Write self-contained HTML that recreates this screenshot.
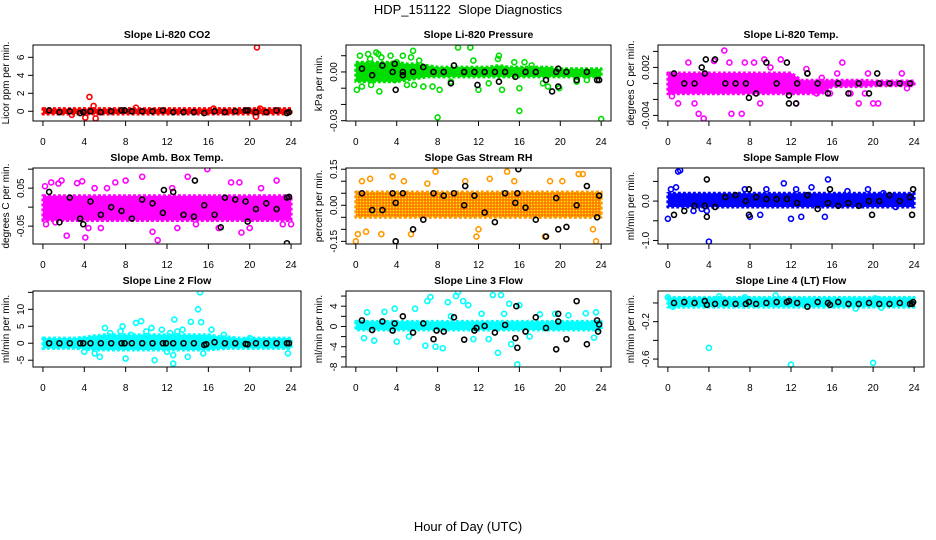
<!DOCTYPE html>
<html><head><meta charset="utf-8"><style>
body{margin:0;background:#fff}
svg{display:block;font-family:"Liberation Sans",sans-serif}
</style></head><body>
<svg id="chart" width="936" height="540" viewBox="0 0 936 540" xmlns="http://www.w3.org/2000/svg">
<defs>
<pattern id="rh-pat" width="3" height="3" patternUnits="userSpaceOnUse"><rect width="3" height="3" fill="#ff9900"/><rect width="1" height="1" fill="#ffee00"/><rect x="1.5" y="1.5" width="1" height="1" fill="#ff2200"/></pattern>
</defs>
<text x="468" y="14" text-anchor="middle" font-size="13" xml:space="preserve">HDP_151122  Slope Diagnostics</text>
<text x="468" y="531" text-anchor="middle" font-size="13">Hour of Day (UTC)</text>
</svg>
<script>
const hours = [0,1,2,3,4,5,6,7,8,9,10,11,12,13,14,15,16,17,18,19,20,21,22,23,24];
const blackX = [0.6,1.6,2.6,3.6,4.6,5.6,6.6,7.6,8.6,9.6,10.6,11.6,12.6,13.6,14.6,15.6,16.6,17.6,18.6,19.6,20.6,21.6,22.6,23.6];
const xTicks = [0,4,8,12,16,20,24];

const co2BandLo = Array(25).fill(-0.3);
const co2BandHi = Array(25).fill(0.3);
const co2Black = [0.1,-0.1,0,-0.2,0,-0.1,0,0.1,0,0,0,0.1,-0.1,-0.1,-0.1,-0.2,0,-0.1,0,0.1,-0.1,-0.1,0.1,-0.2];
const co2Scatter = [[4.1,-0.7],[4.5,1.6],[4.9,0.6],[5.1,-0.8],[20.7,7.1],[20.6,-0.6],[9,0.4],[21,0.3],[2.8,-0.4],[16.5,0.3]];
const co2BlackExtra = [[3.9,-0.1],[7.9,0.1],[19.8,0.1],[23.8,-0.1]];

const presBandLo = [-0.006,-0.006,-0.006,-0.006,-0.006,-0.005,-0.004,-0.003,-0.003,-0.003,-0.003,-0.003,-0.003,-0.003,-0.003,-0.003,-0.003,-0.003,-0.003,-0.003,-0.003,-0.003,-0.003,-0.003,-0.003];
const presBandHi = [0.006,0.006,0.006,0.006,0.006,0.005,0.005,0.004,0.003,0.003,0.003,0.003,0.003,0.003,0.004,0.003,0.003,0.003,0.003,0.003,0.002,0.002,0.002,0.002,0.002];
const presBlack = [0.002,-0.002,0.004,0,0,0,0.003,0,0,0.004,0,0,0,0,0,-0.003,0,0,-0.005,0,0,-0.005,0,-0.005];
const presScatter = [[0.1,-0.011],[0.4,0.010],[0.6,-0.009],[1.2,0.011],[1.4,0.008],[1.5,-0.008],[2,0.012],[2.2,0.011],[2.5,0.009],[2.3,-0.012],[3.4,0.010],[3.6,0.005],[3.8,-0.005],[4,0.006],[4.6,0.010],[5,-0.008],[5.4,0.009],[5.6,0.013],[5.7,-0.008],[6.2,0.007],[6.6,-0.009],[7.5,-0.009],[8,-0.028],[8.2,-0.011],[9.3,-0.006],[10,0.015],[11.2,0.015],[11.5,0.007],[12,-0.011],[13,-0.007],[13.9,0.008],[14,0.010],[14.3,-0.011],[15.5,0.006],[16,-0.024],[16,-0.010],[16.5,0.006],[17.2,0.004],[18.3,-0.007],[18.8,-0.009],[19.9,-0.010],[21.6,-0.006],[22.6,-0.005],[24,-0.029]];
const presBlackExtra = [[3.8,0.005],[3.9,-0.011],[4.6,-0.002],[9.3,-0.007],[11.9,-0.008],[14,-0.006],[19.2,-0.012],[19.8,-0.009],[19.8,0.002],[23.8,-0.005]];

const tempBandLo = [-0.0013,-0.0013,-0.0013,-0.0013,-0.0013,-0.0013,-0.0013,-0.0013,-0.0013,-0.0013,-0.0013,-0.0013,-0.0013,-0.0013,-0.0013,-0.0013,-0.0004,-0.0004,-0.0004,-0.0004,-0.0003,-0.0003,-0.0003,-0.0003,-0.0003];
const tempBandHi = [0.0013,0.0013,0.0013,0.0013,0.0013,0.0013,0.0013,0.0013,0.0013,0.0013,0.0013,0.0013,0.0013,0.0004,0.0004,0.0004,0.0004,0.0004,0.0004,0.0004,0.0003,0.0003,0.0003,0.0003,0.0003];
const tempBlack = [0.00125,0,0,0.00125,0.003,0,0,0,-0.00125,0.0026,0,0.0026,0,0.00125,0,-0.00125,0,-0.00125,0,-0.00125,0,0,0,0];
const tempScatter = [[0.4,-0.0016],[1,-0.0025],[2,0.0026],[2.6,-0.0025],[3,-0.0038],[3.5,-0.0044],[4.5,0.0028],[5.5,0.0041],[6,0.0026],[6.2,-0.0038],[7.2,-0.0038],[7.5,0.0026],[8.4,0.0026],[9.4,0.003],[9,-0.0025],[10,0.002],[11,0.003],[12.5,-0.0025],[13.5,0.0018],[15,0.0007],[17,0.0026],[16.5,0.00125],[18.6,-0.0025],[19.5,0.00125],[20,-0.0025],[20.5,-0.0025],[22.8,0.00125],[23.3,-0.0006],[17.8,-0.00125],[19.2,-0.00125],[14.5,-0.00125],[15.8,-0.00125]];
const tempBlackExtra = [[3.7,0.003],[3.3,0.0020],[7.9,-0.0018],[11.8,-0.0025],[11.8,-0.0015],[12.5,-0.0025],[13.6,0.00125],[20.4,0.00125]];

const ambBandLo = Array(25).fill(-0.035);
const ambBandHi = Array(25).fill(0.03);
const ambBlack = [0.04,-0.04,0.025,-0.03,0.015,-0.02,0.0,-0.01,-0.03,0.02,0.01,-0.015,0.04,-0.02,-0.025,0.005,-0.02,0.025,0.02,0.015,-0.005,0.01,-0.005,0.025];
const ambScatter = [[0.2,0.055],[0.8,0.065],[1.5,0.062],[1.8,0.07],[2.3,-0.075],[3.3,0.063],[3.8,0.068],[4.1,-0.08],[4.4,-0.055],[5,0.05],[5.6,-0.055],[6.2,0.05],[7,0.065],[8,0.07],[9.6,0.08],[10.6,-0.065],[11.1,-0.087],[12.5,0.05],[14,0.08],[14.8,-0.045],[15.9,0.1],[17,-0.055],[18.2,0.065],[19,0.065],[19.2,-0.067],[20,-0.055],[21.1,0.05],[22.6,0.07],[23.2,-0.045],[24,-0.045],[0.3,-0.045],[1.2,-0.04],[13,-0.055]];
const ambBlackExtra = [[23.6,-0.095],[14.7,0.07],[17.2,-0.053],[3.9,-0.045],[11.7,0.045],[19.8,-0.038],[23.8,0.027]];

const rhBandLo = Array(25).fill(-0.05);
const rhBandHi = Array(25).fill(0.055);
const rhBlack = [0.05,-0.02,-0.02,0.05,0.05,-0.1,-0.06,0.05,0.04,0.05,0.0,0.04,-0.03,-0.07,0.05,0.01,-0.01,-0.06,-0.13,0.03,-0.09,0.0,0.08,-0.05];
const rhScatter = [[0,-0.15],[0.2,-0.12],[0.6,0.1],[1,-0.11],[1.4,0.11],[2.5,-0.12],[3.6,0.12],[4.7,0.1],[5.4,-0.12],[7,0.09],[7.8,0.14],[9.4,0.18],[10.7,0.1],[11.8,-0.13],[13.1,0.11],[14.8,0.14],[15.5,0.1],[18.5,-0.13],[19,0.1],[20.2,0.1],[21.8,0.13],[22.2,0.13],[23.5,-0.15],[23.2,-0.1],[12,-0.1]];
const rhBlackExtra = [[3.8,0.17],[3.9,-0.15],[15.9,0.15],[3.9,0.01],[10.7,0.08],[15.8,0.05],[19.8,-0.1],[23.8,0.04]];

const sfBandLo = Array(25).fill(-0.15);
const sfBandHi = Array(25).fill(0.2);
const sfBlack = [-0.35,-0.25,-0.12,-0.12,-0.15,0.1,0.15,0.0,0.1,0.05,0.05,0.05,-0.05,0.15,-0.2,-0.05,-0.12,-0.05,-0.12,0.0,0.0,0.15,0.0,0.1];
const sfScatter = [[0,-0.45],[0.3,0.3],[0.8,0.35],[1,0.75],[1.2,0.78],[2.5,-0.25],[3.3,-0.2],[4,-1.03],[3.8,-0.25],[7.5,0.3],[8,-0.4],[9,-0.35],[9.6,0.3],[11.3,0.45],[12,-0.45],[12.5,0.3],[13,-0.4],[14,0.35],[15.3,-0.4],[15.6,0.55],[17.5,0.25],[19.5,0.3],[21,0.2],[22.2,-0.15]];
const sfBlackExtra = [[3.8,0.55],[3.8,-0.4],[7.9,-0.35],[19.9,-0.35],[23.8,-0.35],[23.9,0.3],[7.9,0.3],[15.8,0.3]];

const l2BandLo = [-1.5,-1.5,-1.5,-1.5,-1.7,-2,-2,-2,-2,-2,-2,-2,-2,-2,-2,-2,-2,-1.7,-1.5,-1.5,-1.5,-1.5,-1.5,-1.5,-1.5];
const l2BandHi = [1.5,1.5,1.5,1.5,1.8,2.2,2.5,2.5,2.5,2.5,2.5,2.5,2.5,2.5,2.5,2.5,2.5,2,1.8,1.5,1.5,1.5,1.5,1.5,1.5];
const l2Black = [0,0,0,0,0,0,0,0,0,0,0,0,0,0,0,-0.5,0.3,0,0,-0.2,0,0,0,0];
const l2Scatter = [[4,-2.5],[5,-3],[5.5,-4],[6,4.5],[6.5,3],[7.5,3.5],[7.7,5],[8,-4.5],[8.5,2.5],[9,6],[9.5,6.5],[10,3.5],[10.5,4.5],[10.8,-5],[11.5,4],[12,-2.5],[12.3,3],[12.6,-3.5],[12.7,7],[13,3.5],[13.5,4],[14,-4],[14.3,6.3],[15,10],[15.2,15],[15.3,6.2],[15.5,-3],[16.3,4],[17.5,2.5],[20,1.5],[23.7,-3],[12.6,-6]];
const l2BlackExtra = [[3.9,0],[7.9,0],[11.9,0],[15.8,-0.3],[19.8,-0.3],[23.8,0]];

const l3BandLo = Array(25).fill(-0.7);
const l3BandHi = Array(25).fill(1.0);
const l3Black = [1.2,-0.7,1.0,-0.8,2.0,-1.2,0.6,-2.5,-1.0,1.8,-2.6,-0.8,0.1,-1.2,0.3,-2.3,-1.0,1.8,-0.3,-4.5,-2.5,5.0,-3.5,1.2];
const l3Scatter = [[0.8,-2.3],[1.1,2.8],[1.8,-2.8],[2.8,2.9],[3.8,3.5],[4,-3],[5.2,-2],[5.8,3.5],[6.8,-3.8],[7,5],[7.3,5.8],[7.8,-4],[8.5,-4.3],[9,4.8],[9.3,2],[9.8,6],[10,6.8],[10.5,5],[11,4.2],[11.5,-2.5],[12.3,2.5],[13,-2.5],[13.4,6.2],[13.9,-5.2],[14.2,6.2],[14.5,2.5],[15,4.5],[15.2,-3.5],[15.8,-7.5],[16,4.2],[17,-2],[18,2.4],[19.5,2.5],[20.8,2.2],[22.5,2.6],[23.3,-2.2],[23.5,2.8]];
const l3BlackExtra = [[3.8,0.6],[7.9,-0.8],[11.8,-0.3],[15.7,4.0],[15.8,-4.2],[19.8,2.5],[19.8,1.0],[23.8,0.4],[23.7,-1.0]];

const l4BandLo = Array(25).fill(-0.045);
const l4BandHi = Array(25).fill(0.06);
const l4Black = [0.0,0.01,0.0,0.02,-0.01,0.0,-0.01,-0.01,-0.01,0.0,0.01,0.01,0.0,-0.04,0.01,0.0,0.01,-0.01,-0.01,0.0,-0.01,-0.01,0.0,-0.01];
const l4Scatter = [[0,0.06],[0.5,-0.04],[4,-0.48],[5,0.07],[7.5,0.06],[10.5,0.08],[12,-0.66],[18.3,-0.06],[20,-0.64],[20.2,0.05],[20.8,-0.05]];
const l4BlackExtra = [[3.8,-0.02],[11.8,0.02],[15.8,-0.02],[7.9,0.01],[23.8,-0.01],[23.9,0.01]];

const panels = [
 {name:'co2',title:'Slope Li-820 CO2',ylab:'Licor ppm per min.',box:[33,45,301,121],ylim:[-1.08,7.37],ticks:[0,2,4,6],labels:['0','2','4','6'],col:'#ff0000',lo:co2BandLo,hi:co2BandHi,blk:co2Black,sc:co2Scatter,bx:co2BlackExtra},
 {name:'pressure',title:'Slope Li-820 Pressure',ylab:'kPa per min.',box:[346,45,611,121],ylim:[-0.0302,0.0166],ticks:[0.01,0,-0.01,-0.02,-0.03],labels:['','0.00','','','-0.03'],col:'#00dd00',lo:presBandLo,hi:presBandHi,blk:presBlack,sc:presScatter,bx:presBlackExtra},
 {name:'temp',title:'Slope Li-820 Temp.',ylab:'degrees C per min.',box:[658,45,924,121],ylim:[-0.0047,0.0048],ticks:[0.004,0.002,0,-0.002,-0.004],labels:['','0.002','','','-0.004'],col:'#ff00ff',lo:tempBandLo,hi:tempBandHi,blk:tempBlack,sc:tempScatter,bx:tempBlackExtra},
 {name:'amb-box-temp',title:'Slope Amb. Box Temp.',ylab:'degrees C per min.',box:[33,168,301,244],ylim:[-0.097,0.103],ticks:[0.1,0.05,0,-0.05],labels:['','0.05','','-0.05'],col:'#ff00ff',lo:ambBandLo,hi:ambBandHi,blk:ambBlack,sc:ambScatter,bx:ambBlackExtra},
 {name:'gas-stream-rh',title:'Slope Gas Stream RH',ylab:'percent per min.',box:[346,168,611,244],ylim:[-0.161,0.155],ticks:[0.15,0.1,0.05,0,-0.05,-0.1,-0.15],labels:['0.15','','','0.00','','','-0.15'],col:'#ff9900',fill:'url(#rh-pat)',lo:rhBandLo,hi:rhBandHi,blk:rhBlack,sc:rhScatter,bx:rhBlackExtra},
 {name:'sample-flow',title:'Slope Sample Flow',ylab:'ml/min per min.',box:[658,168,924,244],ylim:[-1.09,0.84],ticks:[0.5,0,-0.5,-1],labels:['','0.0','','-1.0'],col:'#0000ff',lo:sfBandLo,hi:sfBandHi,blk:sfBlack,sc:sfScatter,bx:sfBlackExtra},
 {name:'line2-flow',title:'Slope Line 2 Flow',ylab:'ml/min per min.',box:[33,291,301,367],ylim:[-7,15.4],ticks:[15,10,5,0,-5],labels:['','10','5','0','-5'],col:'#00ffff',lo:l2BandLo,hi:l2BandHi,blk:l2Black,sc:l2Scatter,bx:l2BlackExtra},
 {name:'line3-flow',title:'Slope Line 3 Flow',ylab:'ml/min per min.',box:[346,291,611,367],ylim:[-8,7],ticks:[6,4,2,0,-2,-4,-6,-8],labels:['','4','','0','','-4','','-8'],col:'#00ffff',lo:l3BandLo,hi:l3BandHi,blk:l3Black,sc:l3Scatter,bx:l3BlackExtra},
 {name:'line4-flow',title:'Slope Line 4 (LT) Flow',ylab:'ml/min per min.',box:[658,291,924,367],ylim:[-0.685,0.128],ticks:[0,-0.2,-0.4,-0.6],labels:['','-0.2','','-0.6'],col:'#00ffff',lo:l4BandLo,hi:l4BandHi,blk:l4Black,sc:l4Scatter,bx:l4BlackExtra}
];

const NS='http://www.w3.org/2000/svg';
const svg=document.getElementById('chart');
function mk(tag,attrs,parent,text){const e=document.createElementNS(NS,tag);for(const k in attrs)e.setAttribute(k,attrs[k]);if(text!==undefined)e.textContent=text;parent.appendChild(e);return e;}

panels.forEach(p=>{
 const [L,T,R,B]=p.box;
 const xs=v=>L+(v+0.96)/25.92*(R-L);
 const ys=v=>B-(v-p.ylim[0])/(p.ylim[1]-p.ylim[0])*(B-T);
 const g=mk('g',{},svg);
 
 
 const cp=mk('clipPath',{id:'clip-'+p.name},g);
 mk('rect',{x:L,y:T,width:R-L,height:B-T},cp);
 const data=mk('g',{'clip-path':'url(#clip-'+p.name+')'},g);
 let pts=hours.map((h,i)=>xs(h)+','+ys(p.hi[i]));
 pts=pts.concat(hours.slice().reverse().map((h,j)=>xs(h)+','+ys(p.lo[hours.length-1-j])));
 const band=mk('polygon',{points:pts.join(' '),fill:p.fill||p.col,stroke:p.col,'stroke-width':3,'stroke-linejoin':'round','stroke-dasharray':'3 2'},data);
 
 
 p.sc.forEach(d=>{
  const c=mk('circle',{cx:xs(d[0]),cy:ys(d[1]),r:2.5,fill:'none',stroke:p.col,'stroke-width':1.6},data);
  
  
 });
 const blk=blackX.map((x,i)=>[x,p.blk[i]]).concat(p.bx);
 blk.forEach(d=>{
  const c=mk('circle',{cx:xs(d[0]),cy:ys(d[1]),r:2.5,fill:'none',stroke:'#000','stroke-width':1.6},data);
  
  
 });
 const box=mk('rect',{x:L,y:T,width:R-L,height:B-T,fill:'none',stroke:'#000','stroke-width':1},g);
 
 
 const xa=mk('g',{},g);
 
 
 mk('line',{x1:xs(0),x2:xs(24),y1:B,y2:B,stroke:'#000'},xa);
 xTicks.forEach(t=>{
  mk('line',{x1:xs(t),x2:xs(t),y1:B,y2:B+5,stroke:'#000'},xa);
  const tx=mk('text',{x:xs(t),y:B+24,'text-anchor':'middle','font-size':10},xa,String(t));
  
  
 });
 const ya=mk('g',{},g);
 
 
 mk('line',{x1:L,x2:L,y1:ys(p.ticks[0]),y2:ys(p.ticks[p.ticks.length-1]),stroke:'#000'},ya);
 p.ticks.forEach((t,i)=>{
  mk('line',{x1:L-5,x2:L,y1:ys(t),y2:ys(t),stroke:'#000'},ya);
  if(p.labels[i]){
   const lx=L-9,ly=ys(t);
   const tx=mk('text',{x:lx,y:ly,'text-anchor':'middle','font-size':10,transform:'rotate(-90 '+lx+' '+ly+')'},ya,p.labels[i]);
   
   
  }
 });
 const yx=L-24,yy=(T+B)/2;
 const yt=mk('text',{x:yx,y:yy,'text-anchor':'middle','font-size':10,transform:'rotate(-90 '+yx+' '+yy+')'},g,p.ylab);
 
 
 const tt=mk('text',{x:(L+R)/2,y:T-7,'text-anchor':'middle','font-size':10.5,'font-weight':'bold'},g,p.title);
 
 
});
</script>
</body></html>
